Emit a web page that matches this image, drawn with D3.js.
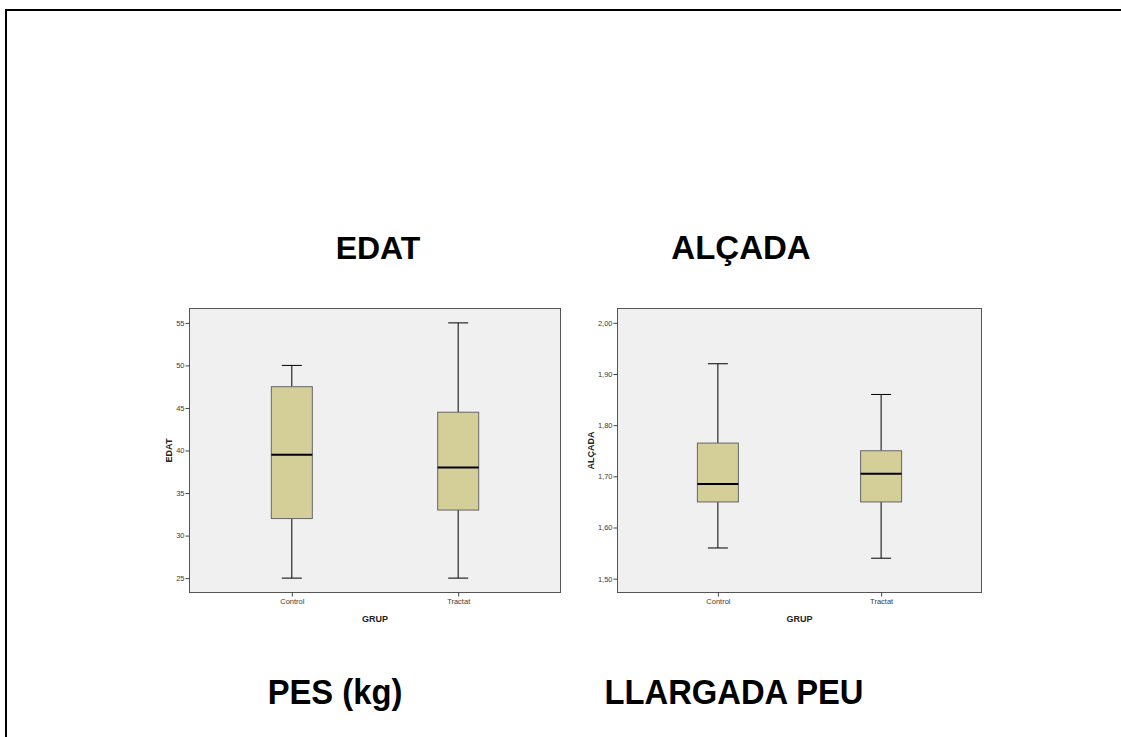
<!DOCTYPE html>
<html>
<head>
<meta charset="utf-8">
<script src="https://cdn.jsdelivr.net/npm/d3@7"></script>
<style>
  body { margin: 0; background: #fff; }
  svg { display: block; font-family: "Liberation Sans", Arial, sans-serif; }
  .axis path, .axis line { stroke: #444; }
</style>
</head>
<body>
<svg id="page" width="1121" height="737"></svg>
<script>
// categories
const groups = ["Control", "Tractat"];

// EDAT box stats: [lowWhisker, q1, median, q3, highWhisker]
const edatStats = [
  [25, 32, 39.5, 47.5, 50],
  [25, 33, 38, 44.5, 55]
];
const edatTicks = [25, 30, 35, 40, 45, 50, 55];

// ALÇADA box stats
const alcadaStats = [
  [1.56, 1.65, 1.685, 1.765, 1.92],
  [1.54, 1.65, 1.705, 1.75, 1.86]
];
const alcadaTicks = [1.5, 1.6, 1.7, 1.8, 1.9, 2.0];

const titles = ["EDAT", "ALÇADA"];
const bottomTitles = ["PES (kg)", "LLARGADA PEU"];

const svg = d3.select("#page");

// outer frame (only top + left visible)
svg.append("path")
  .attr("d", "M6,737 L6,10 L1121,10")
  .attr("fill", "none")
  .attr("stroke", "#000")
  .attr("stroke-width", 2);

// big titles
svg.selectAll(".title")
  .data(titles)
  .enter()
  .append("text")
  .attr("class", "title")
  .attr("x", (d, i) => [378, 741][i])
  .attr("y", 259)
  .attr("text-anchor", "middle")
  .attr("font-size", (d, i) => [32, 33][i])
  .attr("font-weight", "bold")
  .text(d => d);

// bottom titles look condensed in the original
svg.selectAll(".btitle")
  .data(bottomTitles)
  .enter()
  .append("text")
  .attr("class", "btitle")
  .attr("transform", (d, i) => "translate(" + [335, 734][i] + ",704) scale(0.91,1)")
  .attr("text-anchor", "middle")
  .attr("font-size", 36)
  .attr("font-weight", "bold")
  .text(d => d);

let drawBoxplot = function (opts) {
  const { left, top, width, height, stats, ticks, domain, yLabel, fmt } = opts;

  const g = svg.append("g")
    .attr("transform", "translate(" + left + "," + top + ")");

  g.append("rect")
    .attr("width", width)
    .attr("height", height)
    .attr("fill", "#f0f0f0")
    .attr("stroke", "#555")
    .attr("stroke-width", 1);

  const x = d3.scalePoint().domain(groups).range([0, width]).padding(0.615);
  const y = d3.scaleLinear().domain(domain).range([height, 0]);

  const yAxis = d3.axisLeft(y).tickValues(ticks).tickFormat(fmt).tickSize(4).tickPadding(1);
  const ya = g.append("g").attr("class", "axis").call(yAxis);
  ya.select(".domain").remove();

  const xAxis = d3.axisBottom(x).tickSize(4).tickPadding(2);
  const xa = g.append("g").attr("class", "axis")
    .attr("transform", "translate(0," + height + ")")
    .call(xAxis);
  xa.select(".domain").remove();

  g.selectAll(".tick text")
    .attr("fill", "#3a3a3a")
    .attr("font-size", 7.5);

  const boxW = 41, capW = 20;

  const box = g.selectAll(".box")
    .data(stats)
    .enter()
    .append("g")
    .attr("class", "box")
    .attr("transform", (d, i) => "translate(" + x(groups[i]) + ",0)");

  // whisker lines
  box.append("line")
    .attr("y1", d => y(d[0])).attr("y2", d => y(d[1]))
    .attr("stroke", "#000");
  box.append("line")
    .attr("y1", d => y(d[3])).attr("y2", d => y(d[4]))
    .attr("stroke", "#000");
  // caps
  box.append("line")
    .attr("x1", -capW / 2).attr("x2", capW / 2)
    .attr("y1", d => y(d[0])).attr("y2", d => y(d[0]))
    .attr("stroke", "#000");
  box.append("line")
    .attr("x1", -capW / 2).attr("x2", capW / 2)
    .attr("y1", d => y(d[4])).attr("y2", d => y(d[4]))
    .attr("stroke", "#000");
  // box
  box.append("rect")
    .attr("x", -boxW / 2)
    .attr("width", boxW)
    .attr("y", d => y(d[3]))
    .attr("height", d => y(d[1]) - y(d[3]))
    .attr("fill", "#d4ce98")
    .attr("stroke", "#666")
    .attr("stroke-width", 1);
  // median
  box.append("line")
    .attr("x1", -boxW / 2).attr("x2", boxW / 2)
    .attr("y1", d => y(d[2])).attr("y2", d => y(d[2]))
    .attr("stroke", "#000")
    .attr("stroke-width", 2);

  g.append("text")
    .attr("transform", "translate(" + opts.yLabelX + "," + (height / 2) + ") rotate(-90)")
    .attr("text-anchor", "middle")
    .attr("font-size", 9)
    .attr("font-weight", "bold")
    .attr("fill", "#222")
    .text(yLabel);

  g.append("text")
    .attr("x", width / 2)
    .attr("y", height + 29)
    .attr("text-anchor", "middle")
    .attr("font-size", 9)
    .attr("font-weight", "bold")
    .attr("fill", "#222")
    .text("GRUP");
};

drawBoxplot({
  left: 189.5, top: 308.5, width: 371, height: 284,
  stats: edatStats, ticks: edatTicks, domain: [23.31, 56.69],
  yLabel: "EDAT", yLabelX: -18, fmt: d3.format("d")
});

drawBoxplot({
  left: 617.5, top: 308.5, width: 364, height: 284,
  stats: alcadaStats, ticks: alcadaTicks, domain: [1.473, 2.028],
  yLabel: "ALÇADA", yLabelX: -24, fmt: d => d3.format(".2f")(d).replace(".", ",")
});
</script>
</body>
</html>
